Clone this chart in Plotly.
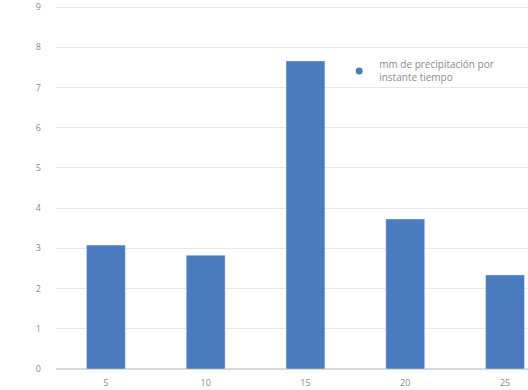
import plotly.graph_objects as go

categories = ["5", "10", "15", "20", "25"]
values = [3.08, 2.83, 7.66, 3.73, 2.34]
y_ticks = [0, 1, 2, 3, 4, 5, 6, 7, 8, 9]
series_name = "mm de precipitación por<br>instante tiempo"

bar_color = "#4a7bbf"

fig = go.Figure()
fig.add_trace(go.Bar(
    x=categories, y=values, marker_color=bar_color, width=0.39,
    showlegend=False,
))
fig.add_trace(go.Scatter(
    x=[None], y=[None], mode="markers", name=series_name,
    marker=dict(symbol="circle", size=7, color=bar_color),
))

fig.update_layout(
    width=528, height=390,
    margin=dict(l=56, r=0, t=3, b=21),
    paper_bgcolor="white", plot_bgcolor="white",
    font=dict(family="Open Sans", size=9, color="#8a8a8a"),
    legend=dict(x=0.6, y=0.872, xanchor="left", yanchor="top",
                bgcolor="rgba(0,0,0,0)", font=dict(size=10, color="#8a8a8a"),
                itemwidth=30, tracegroupgap=0),
    xaxis=dict(type="category", range=[-0.5, 4.23], showgrid=False,
               showline=False, ticks="", ticklabelstandoff=7),
    yaxis=dict(range=[0, 9.05], tickvals=y_ticks, showgrid=True,
               gridcolor="#e8e8e8", gridwidth=1, zeroline=True,
               zerolinecolor="#d8d8d8", ticks="", ticklabelstandoff=14,
               ticklabeloverflow="allow"),
)

fig.write_html("out.html")
